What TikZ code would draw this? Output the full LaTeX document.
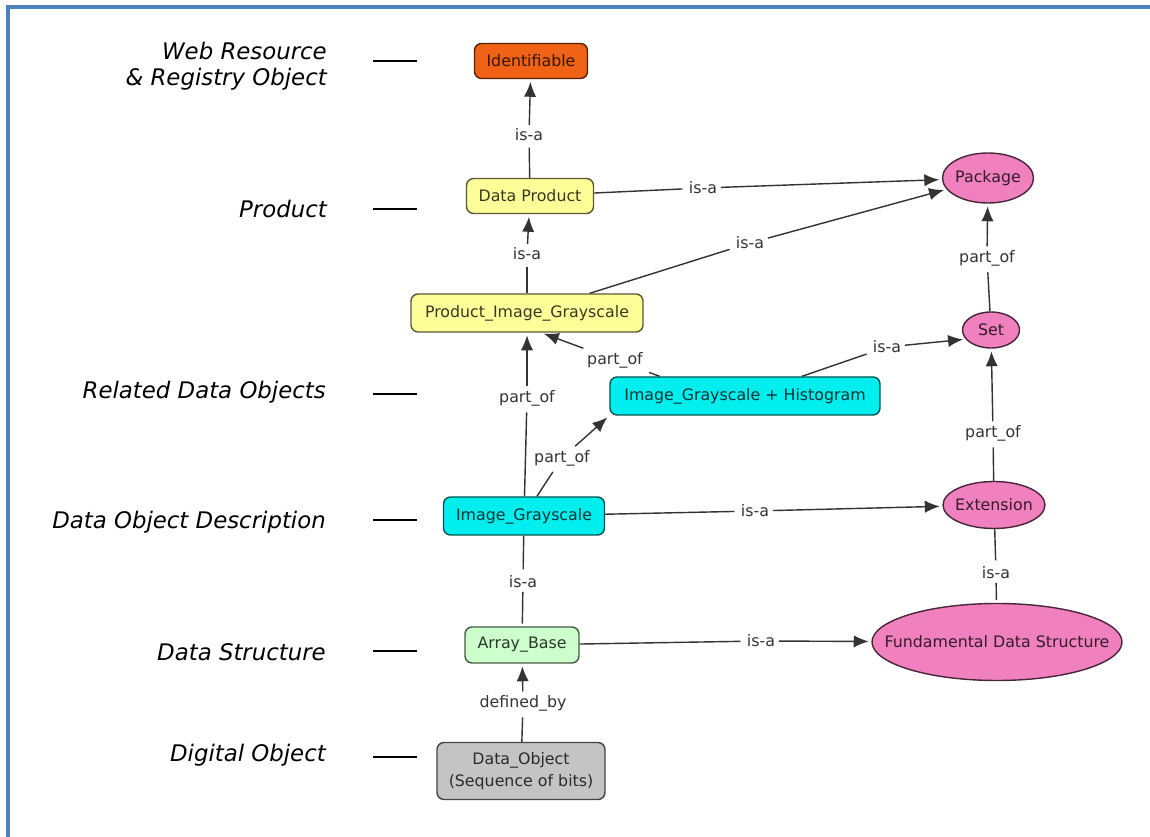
\documentclass[tikz,border=0pt]{standalone}
\usepackage{fontspec}
\setmainfont{DejaVu Sans}
\usepackage{xcolor}
\usetikzlibrary{arrows.meta}
\usetikzlibrary{shapes.geometric}

\definecolor{frameblue}{RGB}{79,129,189}
\definecolor{idorange}{RGB}{240,98,22}
\definecolor{prodyellow}{RGB}{255,255,153}
\definecolor{objcyan}{RGB}{0,238,238}
\definecolor{structgreen}{RGB}{204,255,204}
\definecolor{bitsgray}{RGB}{196,196,196}
\definecolor{classpink}{RGB}{240,128,190}

% one pixel of the drawing
\newcommand{\pxl}{0.02cm}
% text that does not widen an ellipse
\newcommand{\ovl}[1]{\makebox[0pt]{#1}}

\begin{document}
\begin{tikzpicture}[x=\pxl,y=-\pxl,>={Latex[length=8.5pt,width=7pt]},
		concept/.style={rectangle,rounded corners=4pt,fill=#1,draw=#1!35!black,text=#1!22!black,
			line width=0.8pt,inner sep=0pt,align=center,font=\fontsize{9}{12.5}\selectfont},
		class/.style={ellipse,fill=classpink,draw=classpink!30!black,text=classpink!22!black,
			line width=0.8pt,inner sep=0pt,font=\fontsize{9}{11}\selectfont},
		link/.style={inner sep=2pt,text=black!80,font=\fontsize{9}{11}\selectfont},
		level/.style={anchor=east,align=right,font=\fontsize{13}{14.7}\selectfont\itshape},
		rel/.style={draw=black!80,line width=0.8pt,shorten >=1.5pt}]
	\useasboundingbox (0,0) rectangle (1150,837);
	\draw[frameblue,line width=1.8pt] (8,837) -- (8,7) -- (1150,7);

	% levels
	\node[level] (lweb) at (333,66) {Web Resource\\\& Registry Object};
	\node[level] (lprod) at (333,209) {Product};
	\node[level] (lrel) at (332,392) {Related Data Objects};
	\node[level] (ldesc) at (332,522) {Data Object Description};
	\node[level] (lstruct) at (332,652) {Data Structure};
	\node[level] (ldig) at (332,755) {Digital Object};
	\foreach \y in {61,209,394,520,651,757}{
		\draw[line width=0.8pt] (373,\y) -- (417,\y);
	}

	% concepts
	\node[concept=idorange,minimum width=113*\pxl,minimum height=35*\pxl] (ident) at (531,61) {Identifiable};
	\node[concept=prodyellow,minimum width=127*\pxl,minimum height=35*\pxl] (dprod) at (530,196) {Data Product};
	\node[concept=prodyellow,minimum width=232*\pxl,minimum height=38*\pxl] (pig) at (527,313) {Product\_Image\_Grayscale};
	\node[concept=objcyan,minimum width=270*\pxl,minimum height=38*\pxl] (igh) at (745,396) {Image\_Grayscale + Histogram};
	\node[concept=objcyan,minimum width=161*\pxl,minimum height=38*\pxl] (ig) at (524,516) {Image\_Grayscale};
	\node[concept=structgreen,minimum width=114*\pxl,minimum height=36*\pxl] (abase) at (522,645) {Array\_Base};
	\node[concept=bitsgray,minimum width=168*\pxl,minimum height=57*\pxl] (dobj) at (521,771) {Data\_Object\\(Sequence of bits)};

	\node[class,minimum width=91*\pxl,minimum height=50*\pxl] (pack) at (988,178) {\ovl{Package}};
	\node[class,minimum width=57*\pxl,minimum height=36*\pxl] (set) at (991,330) {\ovl{Set}};
	\node[class,minimum width=102*\pxl,minimum height=47*\pxl] (ext) at (994,505) {\ovl{Extension}};
	\node[class,minimum width=250*\pxl,minimum height=77*\pxl] (fds) at (997,642) {\ovl{Fundamental Data Structure}};

	% linking phrases
	\node[link] (isa1) at (529,135) {is-a};
	\node[link] (isa2) at (527,254) {is-a};
	\node[link] (isa3) at (703,188) {is-a};
	\node[link] (isa4) at (750,243) {is-a};
	\node[link] (part1) at (987,258) {part\_of};
	\node[link] (part2) at (615,360) {part\_of};
	\node[link] (isa5) at (887,347) {is-a};
	\node[link] (part3) at (527,398) {part\_of};
	\node[link] (part4) at (562,458) {part\_of};
	\node[link] (part5) at (993,433) {part\_of};
	\node[link] (isa6) at (755,511) {is-a};
	\node[link] (isa7) at (996,573) {is-a};
	\node[link] (isa8) at (523,582) {is-a};
	\node[link] (isa9) at (761,641) {is-a};
	\node[link] (defby) at (523,703) {defined\_by};

	% connections
	\draw[rel] (dprod) -- (isa1);
	\draw[rel,->] (isa1) -- (ident);
	\draw[rel] (pig) -- (isa2);
	\draw[rel,->] (isa2) -- (dprod);
	\draw[rel] (dprod) -- (isa3);
	\draw[rel,->] (isa3) -- (pack);
	\draw[rel] (pig) -- (isa4);
	\draw[rel,->] (isa4) -- (pack);
	\draw[rel] (set) -- (part1);
	\draw[rel,->] (part1) -- (pack);
	\draw[rel] (igh.167) -- (part2);
	\draw[rel,->] (part2) -- (pig.-54);
	\draw[rel] (igh) -- (isa5);
	\draw[rel,->] (isa5) -- (set.200);
	\draw[rel] (ig) -- (part3);
	\draw[rel,->] (part3) -- (pig);
	\draw[rel] (ig) -- (part4);
	\draw[rel,->] (part4) -- (igh.south west);
	\draw[rel] (ext) -- (part5);
	\draw[rel,->] (part5) -- (set);
	\draw[rel] (ig) -- (isa6);
	\draw[rel,->] (isa6) -- (ext);
	\draw[rel] (ext) -- (isa7);
	\draw[rel] (isa7) -- (fds);
	\draw[rel] (ig) -- (isa8);
	\draw[rel] (isa8) -- (abase);
	\draw[rel] (abase) -- (isa9);
	\draw[rel,->] (isa9) -- (fds);
	\draw[rel] (dobj) -- (defby);
	\draw[rel,->] (defby) -- (abase);
\end{tikzpicture}
\end{document}
